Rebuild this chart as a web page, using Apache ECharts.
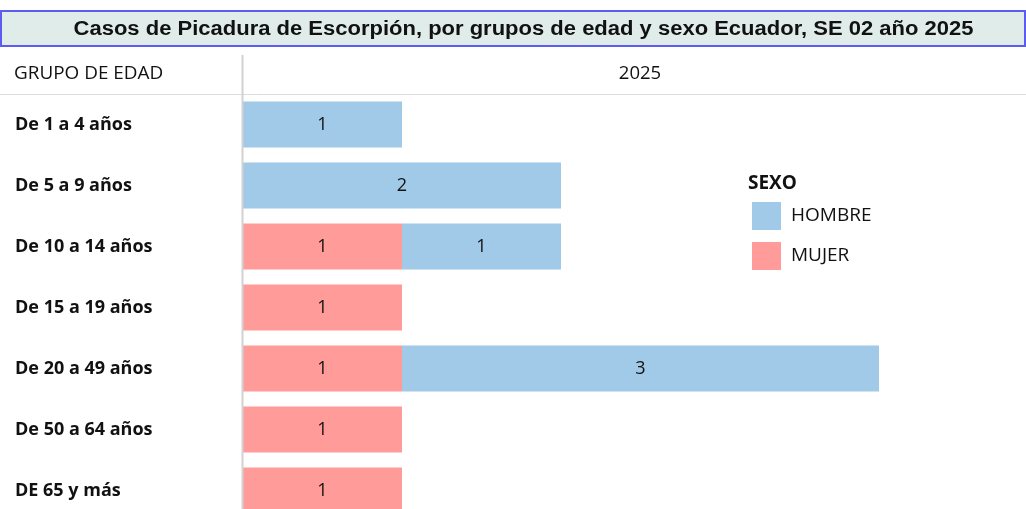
<!DOCTYPE html>
<html>
<head>
<meta charset="utf-8">
<script src="https://cdn.jsdelivr.net/npm/echarts@6/dist/echarts.min.js"></script>
<style>
  html, body { margin: 0; padding: 0; background: #fff; }
  #main { width: 1026px; height: 509px; }
</style>
</head>
<body>
<div id="main"></div>
<script>
// datos
var grupos = ["De 1 a 4 años", "De 5 a 9 años", "De 10 a 14 años", "De 15 a 19 años",
  "De 20 a 49 años", "De 50 a 64 años", "DE 65 y más"];
var mujer = [0, 0, 1, 1, 1, 1, 1];
var hombre = [1, 2, 1, 0, 3, 0, 0];
var titulo = "Casos de Picadura de Escorpión, por grupos de edad y sexo Ecuador, SE 02 año 2025";
var anio = "2025";

var myChart = echarts.init(document.getElementById("main"));

var fuente = "'Open Sans', Lato, sans-serif";

function etiqueta(p) {
  return p.value ? p.value : "";
}

var option = {
  backgroundColor: "#fff",
  animation: false,
  grid: { left: 243, top: 94, width: 795, height: 427, containLabel: false, outerBoundsMode: "none" },
  legend: {
    orient: "vertical",
    left: 752,
    top: 202,
    padding: 0,
    itemWidth: 29,
    itemHeight: 28,
    itemGap: 12,
    icon: "rect",
    data: ["HOMBRE", "MUJER"],
    textStyle: { fontFamily: fuente, fontSize: 19, color: "#111", padding: [0, 0, 0, 5] }
  },
  xAxis: {
    type: "value",
    min: 0,
    max: 5,
    show: false
  },
  yAxis: {
    type: "category",
    data: grupos,
    inverse: true,
    axisLine: { show: false },
    axisTick: { show: false },
    axisLabel: {
      align: "left",
      margin: 228,
      fontFamily: fuente,
      fontWeight: "bold",
      fontSize: 18,
      color: "#111"
    }
  },
  series: [
    {
      name: "MUJER",
      type: "bar",
      stack: "total",
      barWidth: 46,
      data: mujer,
      itemStyle: { color: "#ff9c9a" },
      label: { show: true, position: "inside", formatter: etiqueta, fontFamily: fuente, fontSize: 18, color: "#111" }
    },
    {
      name: "HOMBRE",
      type: "bar",
      stack: "total",
      barWidth: 46,
      data: hombre,
      itemStyle: { color: "#a0cae8" },
      label: { show: true, position: "inside", formatter: etiqueta, fontFamily: fuente, fontSize: 18, color: "#111" }
    }
  ],
  graphic: [
    {
      type: "rect",
      shape: { x: 1, y: 11, width: 1024, height: 35 },
      style: { fill: "#dfece9", stroke: "#5c5cf2", lineWidth: 2 }
    },
    {
      type: "text",
      x: 523.5,
      y: 29,
      scaleX: 1.1,
      style: {
        text: titulo,
        fontFamily: "'Liberation Sans', Arial, sans-serif",
        fontWeight: "bold",
        fontSize: 20,
        fill: "#111",
        align: "center",
        verticalAlign: "middle"
      }
    },
    {
      type: "text",
      x: 14,
      y: 74,
      scaleX: 1.05,
      style: { text: "GRUPO DE EDAD", fontFamily: fuente, fontSize: 18, fill: "#111", verticalAlign: "middle" }
    },
    {
      type: "text",
      x: 640,
      y: 74,
      style: { text: anio, fontFamily: fuente, fontSize: 18.5, fill: "#111", align: "center", verticalAlign: "middle" }
    },
    {
      type: "line",
      shape: { x1: 0, y1: 94.5, x2: 1026, y2: 94.5 },
      style: { stroke: "#dcdcdc", lineWidth: 1 }
    },
    {
      type: "line",
      z: 10,
      shape: { x1: 242.5, y1: 55, x2: 242.5, y2: 509 },
      style: { stroke: "#d2d2d2", lineWidth: 2 }
    },
    {
      type: "text",
      x: 748,
      y: 184,
      style: { text: "SEXO", fontFamily: fuente, fontWeight: "bold", fontSize: 19, fill: "#111", verticalAlign: "middle" }
    }
  ]
};

myChart.setOption(option);
</script>
</body>
</html>
